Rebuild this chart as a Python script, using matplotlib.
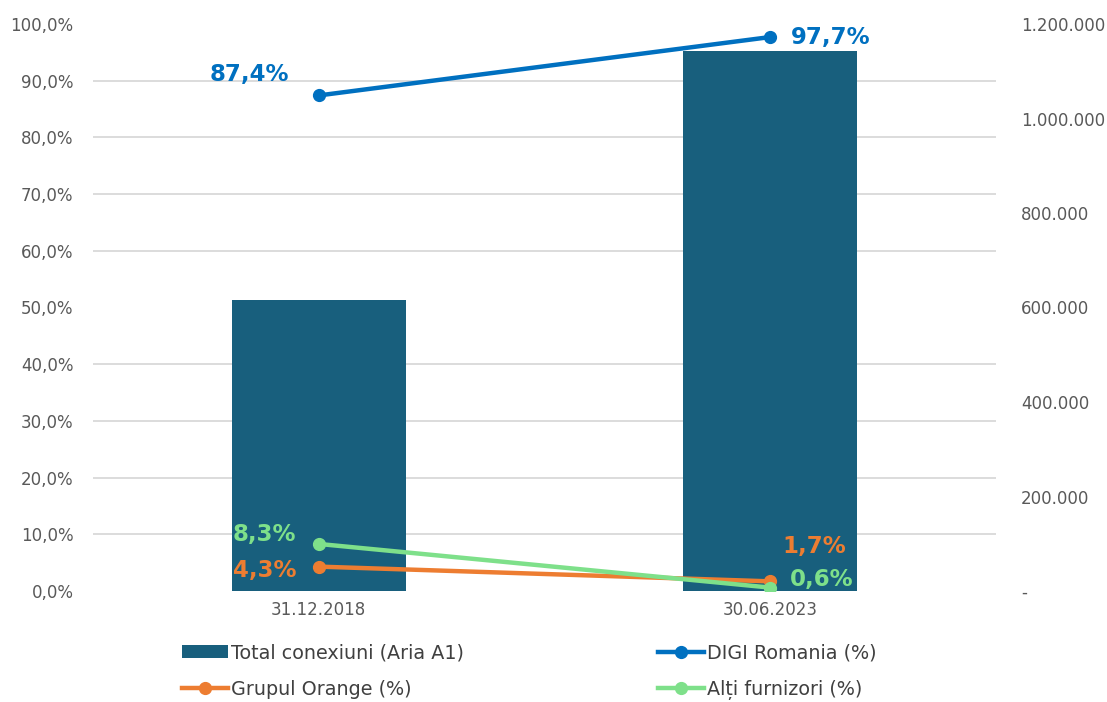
import matplotlib
matplotlib.use("Agg")
import matplotlib.pyplot as plt
from matplotlib.ticker import FuncFormatter, MultipleLocator

plt.rcParams['font.family'] = ['DejaVu Sans']

categories = ["31.12.2018", "30.06.2023"]
total_conexiuni = [616000, 1143000]
digi = [87.4, 97.7]
orange = [4.3, 1.7]
alti = [8.3, 0.6]

bar_color = '#185F7D'
c_digi = '#0070C0'
c_orange = '#ED7D31'
c_alti = '#7EE08A'
tick_color = '#595959'
grid_color = '#D9D9D9'

fig = plt.figure(figsize=(11.07, 7.02), dpi=100)
axb = fig.add_axes([93/1107, 1-591/702, (996-93)/1107, (591-24)/702])
axl = axb.twinx()

x = list(range(len(categories)))
bars = axb.bar(x, total_conexiuni, width=0.385, color=bar_color, zorder=2,
               label='Total conexiuni (Aria A1)')
axb.set_ylim(0, 1200000)
axb.set_xlim(-0.5, 1.5)
axb.yaxis.tick_right()
axb.yaxis.set_major_locator(MultipleLocator(200000))
axb.yaxis.set_minor_locator(MultipleLocator(120000))
axb.grid(which='minor', axis='y', color=grid_color, linewidth=1.3, zorder=0)
axb.set_axisbelow(True)
axb.tick_params(which='both', length=0)
axb.tick_params(axis='y', which='major', labelsize=12, labelcolor=tick_color, pad=18)
axb.tick_params(axis='x', labelsize=12, labelcolor=tick_color, pad=7)
axb.yaxis.set_major_formatter(FuncFormatter(
    lambda v, p: '-' if v == 0 else f'{int(v):,}'.replace(',', '.')))
axb.set_xticks(x)
axb.set_xticklabels(categories)

axl.yaxis.tick_left()
axl.set_ylim(0, 100)
axl.yaxis.set_major_locator(MultipleLocator(10))
axl.yaxis.set_major_formatter(FuncFormatter(lambda v, p: f'{v:.1f}%'.replace('.', ',')))
axl.tick_params(axis='y', length=0, labelsize=12, labelcolor=tick_color, pad=14)

l_digi, = axl.plot(x, digi, color=c_digi, lw=3.2, marker='o', ms=8.5, label='DIGI Romania (%)')
l_or, = axl.plot(x, orange, color=c_orange, lw=3.2, marker='o', ms=8.5, label='Grupul Orange (%)')
l_al, = axl.plot(x, alti, color=c_alti, lw=3.2, marker='o', ms=8.5, label='Alți furnizori (%)')

for a in (axb, axl):
    for s in a.spines.values():
        s.set_visible(False)

def fmt(v):
    return f'{v:.1f}%'.replace('.', ',')

lab_kw = dict(textcoords='offset points', fontsize=16.5, fontweight='bold', va='center')
axl.annotate(fmt(digi[0]), (x[0], digi[0]), xytext=(-21, 15), ha='right', color=c_digi, **lab_kw)
axl.annotate(fmt(digi[1]), (x[1], digi[1]), xytext=(15, 0), ha='left', color=c_digi, **lab_kw)
axl.annotate(fmt(alti[0]), (x[0], alti[0]), xytext=(-16, 7), ha='right', color=c_alti, **lab_kw)
axl.annotate(fmt(orange[0]), (x[0], orange[0]), xytext=(-16, -2.5), ha='right', color=c_orange, **lab_kw)
axl.annotate(fmt(orange[1]), (x[1], orange[1]), xytext=(9, 25), ha='left', color=c_orange, **lab_kw)
axl.annotate(fmt(alti[1]), (x[1], alti[1]), xytext=(14, 5.5), ha='left', color=c_alti, **lab_kw)

handles = [bars, l_or, l_digi, l_al]
labels = [h.get_label() for h in handles]
leg = fig.legend(handles, labels, ncol=2, loc='upper left',
                 bbox_to_anchor=(165/1107, 1-626/702), frameon=False,
                 fontsize=13.8, handlelength=2.4, handletextpad=0.15,
                 columnspacing=10.1, labelspacing=0.92, labelcolor='#404040')

fig.savefig('out.png', dpi=100)
